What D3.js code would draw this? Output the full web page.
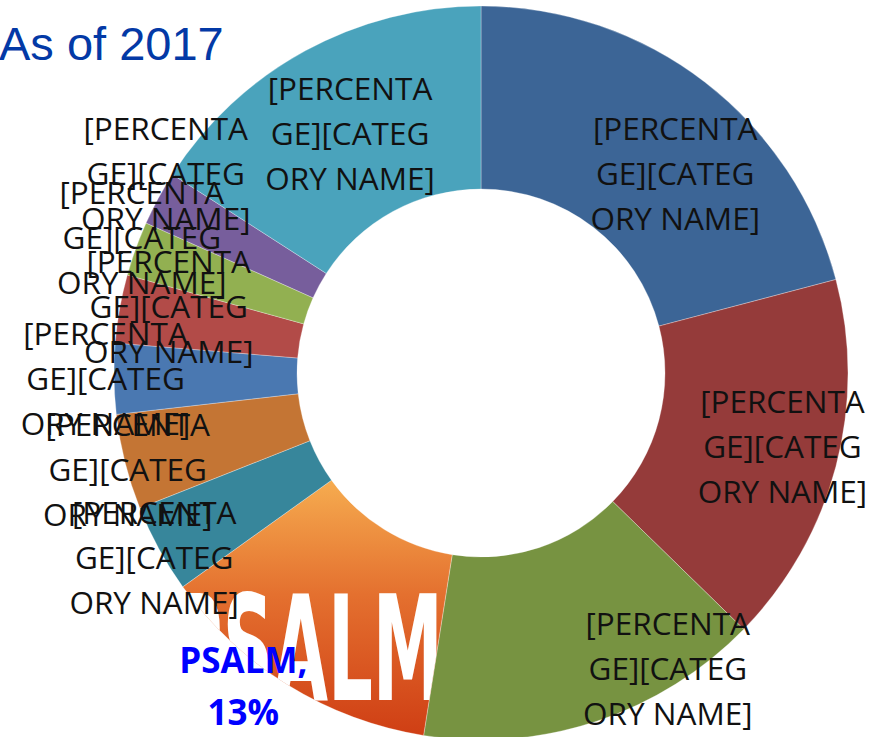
<!DOCTYPE html>
<html>
<head>
<meta charset="utf-8">
<script src="https://cdn.jsdelivr.net/npm/d3@7.9.0/dist/d3.min.js"></script>
<style>
  html, body { margin: 0; padding: 0; background: #fff; }
  svg { display: block; }
</style>
</head>
<body>
<svg id="chart" width="882" height="737"></svg>
<script>
// --- data (share of total, clockwise from 12 o'clock) ---
const categories = ['Cat 1', 'Cat 2', 'Cat 3', 'PSALM', 'Cat 5', 'Cat 6',
                    'Cat 7', 'Cat 8', 'Cat 9', 'Cat 10', 'Cat 11'];
const shares = [20.9, 16.4, 15.2, 12.6, 3.9, 4.2, 3.1, 3.0, 2.4, 2.4, 15.9];
const sliceColors = ['#3c6596', '#953b3a', '#779341', 'url(#psalmGrad)', '#37869b',
                     '#c47534', '#4a78b1', '#b24b48', '#92b051', '#775e9c', '#4aa3bc'];
const placeholderLines = ['[PERCENTA', 'GE][CATEG', 'ORY NAME]'];
const highlighted = 'PSALM';

// label nudges from the ring centroid (layout only)
const labelNudge = [[26, 18], [35, 2], [100, 33], [-93, 78], [-85, 52], [-86, 29],
                    [-100, 0], [-41, -19], [-80, -43], [-73, -69], [1, 1]];

const svg = d3.select('#chart');
const cx = 481, cy = 373, outerR = 367, innerR = 184;

// title
svg.append('text')
  .attr('x', -1).attr('y', 60)
  .attr('font-family', 'Liberation Sans, Arial, sans-serif')
  .attr('font-size', 47)
  .attr('fill', '#0339a6')
  .text('As of 2017');

// gradient for the PSALM slice (coordinates relative to the pie centre)
const defs = svg.append('defs');
const grad = defs.append('linearGradient')
  .attr('id', 'psalmGrad')
  .attr('gradientUnits', 'userSpaceOnUse')
  .attr('x1', 0).attr('y1', 105).attr('x2', 0).attr('y2', 364);
grad.append('stop').attr('offset', 0).attr('stop-color', '#f6ad50');
grad.append('stop').attr('offset', 0.45).attr('stop-color', '#e4702f');
grad.append('stop').attr('offset', 1).attr('stop-color', '#cf3e14');

const pie = d3.pie().sort(null).value(d => d);
const arcs = pie(shares);
const arc = d3.arc().innerRadius(innerR).outerRadius(outerR);
const labelArc = d3.arc().innerRadius((innerR + outerR) / 2).outerRadius((innerR + outerR) / 2);

const g = svg.append('g').attr('transform', `translate(${cx},${cy})`);

g.selectAll('path.slice')
  .data(arcs)
  .enter()
  .append('path')
  .attr('class', 'slice')
  .attr('d', arc)
  .attr('fill', (d, i) => sliceColors[i])
  .attr('stroke', '#ffffff')
  .attr('stroke-opacity', 0.5)
  .attr('stroke-width', 0.6);

// logo picture inside the PSALM slice (white lettering clipped to the slice)
const psalmIdx = categories.indexOf(highlighted);
defs.append('clipPath').attr('id', 'psalmClip')
  .append('path').attr('d', arc(arcs[psalmIdx]));
g.append('g')
  .attr('clip-path', 'url(#psalmClip)')
  .append('text')
  .attr('x', -310).attr('y', 327)
  .attr('textLength', 272)
  .attr('lengthAdjust', 'spacingAndGlyphs')
  .attr('font-family', 'DejaVu Sans, sans-serif')
  .attr('font-weight', 'bold')
  .attr('font-size', 146)
  .attr('fill', '#ffffff')
  .text('PSALM');

// data labels
const total = d3.sum(shares);
const labels = g.selectAll('text.lbl')
  .data(arcs)
  .enter()
  .append('text')
  .attr('class', 'lbl')
  .attr('text-anchor', 'middle')
  .attr('transform', (d, i) => {
    const [x, y] = labelArc.centroid(d);
    return `translate(${x + labelNudge[i][0]},${y + labelNudge[i][1]})`;
  });

labels.each(function (d, i) {
  const t = d3.select(this);
  if (categories[i] === highlighted) {
    const lines = [`${categories[i]},`, `${Math.round(d.value / total * 100)}%`];
    t.attr('font-family', 'Open Sans, sans-serif')
      .attr('font-weight', 'bold')
      .attr('font-size', 35)
      .attr('fill', '#0000ff');
    lines.forEach((s, k) => {
      t.append('tspan').attr('x', 0).attr('y', (k - 0.5) * 52)
        .attr('dominant-baseline', 'central').text(s);
    });
  } else {
    t.attr('font-family', 'Open Sans, sans-serif')
      .attr('font-size', 31.5)
      .attr('fill', '#111111');
    placeholderLines.forEach((s, k) => {
      t.append('tspan').attr('x', 0).attr('y', (k - 1) * 45)
        .attr('dominant-baseline', 'central').text(s);
    });
  }
});
</script>
</body>
</html>
